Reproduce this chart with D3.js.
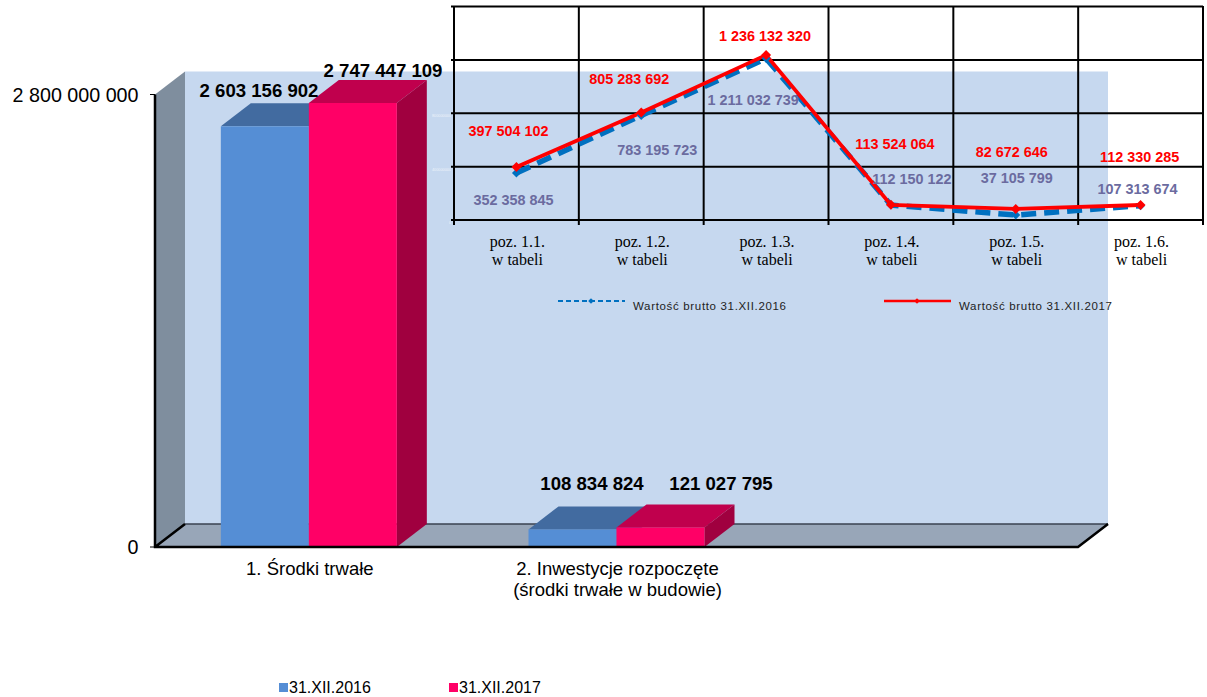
<!DOCTYPE html>
<html><head><meta charset="utf-8">
<script src="https://cdn.jsdelivr.net/npm/d3@7/dist/d3.min.js"></script>
<style>html,body{margin:0;padding:0;background:#fff}svg{display:block}text{font-family:"Liberation Sans",Arial,sans-serif}</style>
</head><body><svg id="c" width="1207" height="697"></svg>
<script>
const barCategories = [["1. Środki trwałe"], ["2. Inwestycje rozpoczęte", "(środki trwałe w budowie)"], [""]];
const barSeriesNames = ["31.XII.2016", "31.XII.2017"];
const bars2016 = [2603156902, 108834824];
const bars2017 = [2747447109, 121027795];
const barLabels2016 = ["2 603 156 902", "108 834 824"];
const barLabels2017 = ["2 747 447 109", "121 027 795"];
const barTicks = [0, 2800000000];
const barTickLabels = ["0", "2 800 000 000"];

const lineCategories = ["poz. 1.1.", "poz. 1.2.", "poz. 1.3.", "poz. 1.4.", "poz. 1.5.", "poz. 1.6."];
const lineSeriesNames = ["Wartość brutto 31.XII.2016", "Wartość brutto 31.XII.2017"];
const line2016 = [352358845, 783195723, 1211032739, 112150122, 37105799, 107313674];
const line2017 = [397504102, 805283692, 1236132320, 113524064, 82672646, 112330285];
const lineLabels2016 = ["352 358 845", "783 195 723", "1 211 032 739", "112 150 122", "37 105 799", "107 313 674"];
const lineLabels2017 = ["397 504 102", "805 283 692", "1 236 132 320", "113 524 064", "82 672 646", "112 330 285"];
const lineTicks = [0, 400000000, 800000000, 1200000000, 1600000000];

// layout (label offsets relative to the plotted point)
const offs2016 = [[-3,27],[16,35],[-13,42],[21,-26],[1,-37],[-3,-17]];
const offs2017 = [[-8,-36],[-12,-34],[-1,-19],[4,-61],[-4,-57],[-1,-48]];
const labPos=[[[259,97],[592,490]],[[383,77],[721,490]]];
const svg = d3.select("#c");
const X0=155, X1=1078, Y0=547, YT=94.5, DX=30, DY=-23;
const C={wall:"#C6D8EF",side:"#7F8E9E",floor:"#98A6B8",
  blue:"#558ED5",blueTop:"#426BA0",pink:"#FF0066",pinkTop:"#C0004D",pinkSide:"#A0003F"};
const poly=(pts,fill)=>svg.append("polygon").attr("points",pts.map(p=>p.join(",")).join(" ")).attr("fill",fill);

const y=d3.scaleLinear().domain([0,2800000000]).range([Y0,YT]);
const x=d3.scaleBand().domain(d3.range(barCategories.length)).range([X0,X1]).paddingInner(0).paddingOuter(0);
const barW=88;

// 3D box
poly([[X0+DX,y(2800000000)+DY],[X1+DX,y(2800000000)+DY],[X1+DX,Y0+DY],[X0+DX,Y0+DY]],C.wall);
poly([[X0,Y0],[X0+DX,Y0+DY],[X1+DX,Y0+DY],[X1,Y0]],C.floor);
poly([[X0,YT],[X0+DX,YT+DY],[X0+DX,Y0+DY],[X0,Y0]],C.side);
svg.append("line").attr("x1",X0+DX).attr("x2",X1+DX).attr("y1",Y0+DY).attr("y2",Y0+DY).attr("stroke","#3a4250").attr("stroke-width",1.5);

const series=[{v:bars2016,f:C.blue,t:C.blueTop,s:C.blueTop,off:-1},{v:bars2017,f:C.pink,t:C.pinkTop,s:C.pinkSide,off:0}];
series.forEach(s=>{
  s.v.forEach((v,i)=>{
    const bx=x(i)+x.bandwidth()/2+s.off*barW, by=y(v);
    poly([[bx,by],[bx+DX,by+DY],[bx+barW+DX,by+DY],[bx+barW,by]],s.t);
    poly([[bx+barW,by],[bx+barW+DX,by+DY],[bx+barW+DX,Y0+DY],[bx+barW,Y0]],s.s);
    svg.append("rect").attr("x",bx).attr("y",by).attr("width",barW).attr("height",Y0-by).attr("fill",s.f);
  });
});
// bar axis
svg.append("path").attr("d",`M${X0} ${YT}V${Y0}H${X1}L${X1+DX} ${Y0+DY}M${X0} ${Y0}L${X0+DX} ${Y0+DY}`).attr("fill","none").attr("stroke","#000").attr("stroke-width",2.5);
svg.selectAll(".bt").data(barTicks).join("line").attr("x1",X0-5).attr("x2",X0).attr("y1",d=>y(d)).attr("y2",d=>y(d)).attr("stroke","#000").attr("stroke-width",1);
svg.selectAll(".bl").data(barTicks).join("text").attr("x",138.5).attr("y",d=>y(d)+7).attr("text-anchor","end").attr("font-size",19.7).text((d,i)=>barTickLabels[i]).attr("fill","#000");

// category labels
barCategories.forEach((lines,i)=>lines.forEach((t,j)=>{
  svg.append("text").attr("x",x(i)+x.bandwidth()/2+1).attr("y",575+j*21).attr("text-anchor","middle").attr("font-size",18.5).attr("fill","#000").text(t);
}));
// bar value labels
[barLabels2016,barLabels2017].forEach((ls,s)=>ls.forEach((t,i)=>{
  svg.append("text").attr("x",labPos[s][i][0]).attr("y",labPos[s][i][1]).attr("text-anchor","middle").attr("font-size",18.6).attr("font-weight","bold").attr("fill","#000").text(t);
}));
// bar legend
barSeriesNames.forEach((n,i)=>{
  const lx=[279,449][i];
  svg.append("rect").attr("x",lx).attr("y",683).attr("width",9).attr("height",9).attr("fill",[C.blue,C.pink][i]);
  svg.append("text").attr("x",lx+10).attr("y",693).attr("font-size",16).attr("fill","#000").text(n);
});

// inset line chart
const lx=d3.scaleBand().domain(lineCategories).range([454,1203]);
const ly=d3.scaleLinear().domain([0,1600000000]).range([220,6.5]);
const grid=svg.append("g").attr("stroke","#000").attr("stroke-width",2);
grid.selectAll(".h").data(lineTicks).join("line").attr("x1",451).attr("x2",1203).attr("y1",d=>ly(d)).attr("y2",d=>ly(d));
grid.selectAll(".v").data(d3.range(7)).join("line").attr("x1",d=>454+d*lx.bandwidth()).attr("x2",d=>454+d*lx.bandwidth()).attr("y1",6).attr("y2",225);
svg.selectAll(".tl").data(lineTicks.slice(0,3)).join("text").attr("x",451).attr("y",d=>ly(d)+4).attr("text-anchor","end").attr("font-size",3.8).attr("fill","#fff").attr("opacity",.7).text(d=>d);

const pt=d=>lx(d)+lx.bandwidth()/2;
const line=d3.line().x((d,i)=>pt(lineCategories[i])).y(d=>ly(d));
svg.append("path").attr("d",line(line2016)).attr("fill","none").attr("stroke","#0070C0").attr("stroke-width",5.5).attr("stroke-dasharray","15 8");
svg.append("path").attr("d",line(line2017)).attr("fill","none").attr("stroke","#FF0000").attr("stroke-width",3.8);
const dia=(data,col,size)=>svg.selectAll(null).data(data).join("path").attr("d",d3.symbol(d3.symbolSquare,size)).attr("transform",(d,i)=>`translate(${pt(lineCategories[i])},${ly(d)}) rotate(45)`).attr("fill",col);
dia(line2016,"#0070C0",40);dia(line2017,"#FF0000",50);
[[lineLabels2016,line2016,offs2016,"#6B6B9F"],[lineLabels2017,line2017,offs2017,"#FF0000"]].forEach(([ls,vs,of,col])=>ls.forEach((t,i)=>{
  svg.append("text").attr("x",pt(lineCategories[i])+of[i][0]).attr("y",ly(vs[i])+of[i][1]+5).attr("text-anchor","middle").attr("font-size",14.4).attr("font-weight","bold").attr("fill",col).text(t);
}));
lineCategories.forEach(c=>{
  const g=svg.append("g").attr("text-anchor","middle").attr("fill","#000").attr("font-size",16);
  g.append("text").attr("x",pt(c)+1).attr("y",246.5).style("font-family",'"Liberation Serif",serif').text(c);
  g.append("text").attr("x",pt(c)+1).attr("y",264.5).style("font-family",'"Liberation Serif",serif').text("w tabeli");
});
// inset legend
const lg=[{x:558,c:"#0070C0",d:"5 3",t:633,w:2.2},{x:884,c:"#FF0000",d:null,t:959,w:2.5}];
lineSeriesNames.forEach((n,i)=>{
  const l=lg[i];
  svg.append("line").attr("x1",l.x).attr("x2",l.x+67).attr("y1",301).attr("y2",301).attr("stroke",l.c).attr("stroke-width",l.w).attr("stroke-dasharray",l.d);
  svg.append("path").attr("d",d3.symbol(d3.symbolSquare,16)).attr("transform",`translate(${l.x+33},301) rotate(45)`).attr("fill",l.c);
  svg.append("text").attr("x",l.t).attr("y",310).attr("font-size",11.5).attr("fill","#222").attr("textLength",153).attr("lengthAdjust","spacing").text(n);
});
</script></body></html>
